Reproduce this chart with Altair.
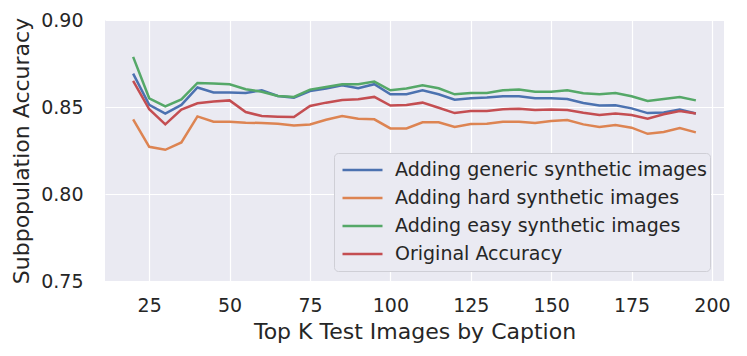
import altair as alt
import pandas as pd

k_values = [20, 25, 30, 35, 40, 45, 50, 55, 60, 65, 70, 75, 80, 85, 90, 95, 100,
            105, 110, 115, 120, 125, 130, 135, 140, 145, 150, 155, 160, 165, 170,
            175, 180, 185, 190, 195]

generic = [0.8692, 0.8512, 0.8462, 0.8512, 0.8612, 0.8583, 0.8583, 0.8581, 0.8596,
           0.8563, 0.8554, 0.8592, 0.8606, 0.8625, 0.8608, 0.8631, 0.8573, 0.8573,
           0.8596, 0.8573, 0.8542, 0.8550, 0.8554, 0.8562, 0.8562, 0.8550, 0.8550,
           0.8546, 0.8523, 0.8508, 0.8510, 0.8492, 0.8465, 0.8469, 0.8485, 0.8463]

hard = [0.8429, 0.8271, 0.8254, 0.8296, 0.8446, 0.8415, 0.8415, 0.8410, 0.8408,
        0.8404, 0.8394, 0.8400, 0.8427, 0.8448, 0.8433, 0.8429, 0.8377, 0.8377,
        0.8412, 0.8412, 0.8385, 0.8402, 0.8404, 0.8415, 0.8415, 0.8408, 0.8419,
        0.8425, 0.8400, 0.8385, 0.8396, 0.8381, 0.8346, 0.8356, 0.8379, 0.8354]

easy = [0.8788, 0.8550, 0.8504, 0.8544, 0.8638, 0.8635, 0.8631, 0.8602, 0.8588,
        0.8563, 0.8558, 0.8600, 0.8615, 0.8631, 0.8631, 0.8646, 0.8596, 0.8606,
        0.8625, 0.8608, 0.8573, 0.8581, 0.8581, 0.8596, 0.8600, 0.8588, 0.8588,
        0.8596, 0.8579, 0.8573, 0.8581, 0.8562, 0.8535, 0.8546, 0.8558, 0.8538]

original = [0.8650, 0.8487, 0.8400, 0.8485, 0.8521, 0.8531, 0.8538, 0.8471, 0.8448,
            0.8444, 0.8442, 0.8506, 0.8525, 0.8540, 0.8544, 0.8558, 0.8508, 0.8512,
            0.8525, 0.8496, 0.8465, 0.8477, 0.8477, 0.8487, 0.8490, 0.8483, 0.8485,
            0.8483, 0.8467, 0.8454, 0.8462, 0.8454, 0.8433, 0.8458, 0.8477, 0.8463]

series_names = ["Adding generic synthetic images", "Adding hard synthetic images",
                "Adding easy synthetic images", "Original Accuracy"]
series_colors = ["#4c72b0", "#dd8452", "#55a868", "#c44e52"]

rows = []
for name, vals in zip(series_names, [generic, hard, easy, original]):
    for k, v in zip(k_values, vals):
        rows.append({"k": k, "acc": v, "series": name})
df = pd.DataFrame(rows)

chart = alt.Chart(df).mark_line(strokeWidth=2.5, clip=True).encode(
    x=alt.X("k:Q", title="Top K Test Images by Caption",
            scale=alt.Scale(domain=[11.25, 203.75], nice=False, zero=False),
            axis=alt.Axis(values=[25, 50, 75, 100, 125, 150, 175, 200])),
    y=alt.Y("acc:Q", title="Subpopulation Accuracy",
            scale=alt.Scale(domain=[0.75, 0.90], nice=False, zero=False),
            axis=alt.Axis(values=[0.75, 0.80, 0.85, 0.90], format=".2f")),
    color=alt.Color("series:N", sort=series_names,
                    scale=alt.Scale(domain=series_names, range=series_colors),
                    legend=alt.Legend(title=None, orient="none", legendX=229, legendY=133)),
    detail="series:N",
).properties(
    width=619, height=261,
    padding={"left": 97, "top": 12, "right": 10, "bottom": 70},
    autosize=alt.AutoSizeParams(type="none"),
).configure_view(
    fill="#eaeaf2", stroke=None,
).configure_axis(
    domain=False, ticks=False, grid=True, gridColor="white", gridWidth=1.2,
    labelFont="DejaVu Sans", titleFont="DejaVu Sans",
    labelFontSize=19, titleFontSize=22, labelColor="#262626", titleColor="#262626",
    titleFontWeight="normal",
).configure_axisX(
    labelPadding=15, titlePadding=6,
).configure_axisY(
    labelPadding=22, titlePadding=7,
).configure_legend(
    fillColor="#eaeaf2", strokeColor="#cfcfd6", cornerRadius=4, padding=3,
    labelFont="DejaVu Sans", labelFontSize=19, labelColor="#262626", labelLimit=500,
    symbolType="stroke", symbolSize=1600, symbolStrokeWidth=2.5,
    symbolOffset=4, labelOffset=11, rowPadding=0, clipHeight=27.8,
)

chart.save("out.html", embed_options={"renderer": "svg", "actions": False})
